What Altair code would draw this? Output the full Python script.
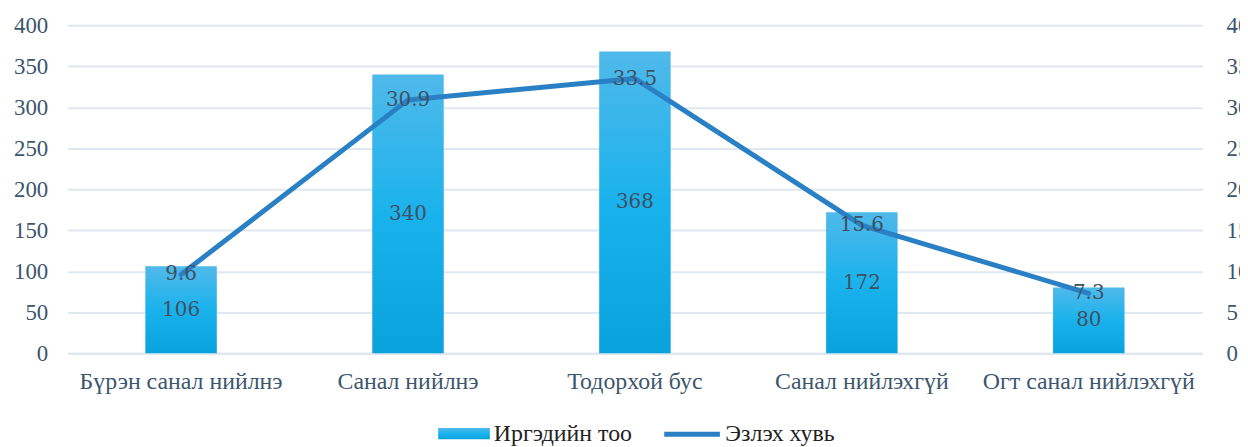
import altair as alt
import pandas as pd

categories = ["Бүрэн санал нийлнэ", "Санал нийлнэ", "Тодорхой бус", "Санал нийлэхгүй", "Огт санал нийлэхгүй"]
counts = [106, 340, 368, 172, 80]
shares = [9.6, 30.9, 33.5, 15.6, 7.3]
bar_series = "Иргэдийн тоо"
line_series = "Эзлэх хувь"

df = pd.DataFrame({
    "cat": categories,
    "count": counts,
    "share": shares,
    "bs": [bar_series] * len(categories),
    "ls": [line_series] * len(categories),
})

AXIS_COL = "#3b566d"
LABEL_COL = "#3f5060"
GRID_COL = "#dfe7ef"
FONT = "Liberation Serif"
DFONT = "DejaVu Serif"

x = alt.X("cat:N", sort=categories, title=None,
          scale=alt.Scale(paddingInner=0.685, paddingOuter=0.3425),
          axis=alt.Axis(labelAngle=0, labelFont=FONT, labelFontSize=24, labelColor=AXIS_COL,
                        ticks=False, domain=True, domainColor=GRID_COL, domainWidth=2,
                        labelPadding=17, labelLimit=0, grid=False))

left_scale = alt.Scale(domain=[0, 400], nice=False)
right_scale = alt.Scale(domain=[0, 40], nice=False)

grad = alt.Gradient(
    gradient="linear",
    stops=[alt.GradientStop(color="#50b9ea", offset=0),
           alt.GradientStop(color="#1ab2ec", offset=0.5),
           alt.GradientStop(color="#0aa2dc", offset=1)],
    x1=0, x2=0, y1=0, y2=1,
)

bars = alt.Chart(df).mark_bar(color=grad).encode(
    x=x,
    y=alt.Y("count:Q", scale=left_scale, title=None,
            axis=alt.Axis(values=[0, 50, 100, 150, 200, 250, 300, 350, 400], orient="left",
                          labelFont=FONT, labelFontSize=23, labelColor=AXIS_COL,
                          ticks=False, domain=False, labelPadding=20,
                          grid=True, gridColor=GRID_COL, gridWidth=2)),
    opacity=alt.Opacity("bs:N", scale=alt.Scale(range=[1]),
                        legend=alt.Legend(title=None, orient="none", legendX=373, legendY=385,
                                          symbolType="M-1,-0.22L1,-0.22L1,0.22L-1,0.22Z",
                                          symbolSize=2704, symbolFillColor="#29aeea",
                                          symbolStrokeWidth=0, symbolOpacity=1,
                                          labelFont=FONT, labelFontSize=24, labelColor="#222222",
                                          labelOffset=4, labelLimit=0)),
)

line = alt.Chart(df).mark_line(strokeWidth=5, strokeCap="round", strokeJoin="round").encode(
    x=x,
    y=alt.Y("share:Q", scale=right_scale, title=None,
            axis=alt.Axis(values=[0, 5, 10, 15, 20, 25, 30, 35, 40], orient="right",
                          labelFont=FONT, labelFontSize=23, labelColor=AXIS_COL,
                          ticks=False, domain=False, labelPadding=24, grid=False)),
    color=alt.Color("ls:N", scale=alt.Scale(range=["#2a80c4"]),
                    legend=alt.Legend(title=None, orient="none", legendX=598, legendY=381,
                                      symbolType="stroke", symbolSize=3136,
                                      symbolStrokeWidth=5, labelFont=FONT, labelFontSize=24,
                                      labelColor="#222222", labelOffset=3, labelLimit=0)),
)

bar_text = alt.Chart(df).transform_calculate(mid="datum.count / 2").mark_text(
    font=DFONT, fontSize=20, color=LABEL_COL, baseline="middle", align="center"
).encode(
    x=x,
    y=alt.Y("mid:Q", scale=left_scale, axis=None),
    text=alt.Text("count:Q"),
)

line_text = alt.Chart(df).mark_text(
    font=DFONT, fontSize=20, color=LABEL_COL, baseline="middle", align="center"
).encode(
    x=x,
    y=alt.Y("share:Q", scale=right_scale, axis=None),
    text=alt.Text("share:Q", format=".1f"),
)

chart = alt.layer(bars, line, bar_text, line_text).resolve_scale(
    y="independent", opacity="independent", color="independent"
).properties(
    width=1142, height=330,
    autosize=alt.AutoSizeParams(type="none"),
    padding={"left": 60, "top": 16, "right": 38, "bottom": 93},
).configure_view(stroke=None)

chart.save("out.html", embed_options={"renderer": "svg", "actions": False})
